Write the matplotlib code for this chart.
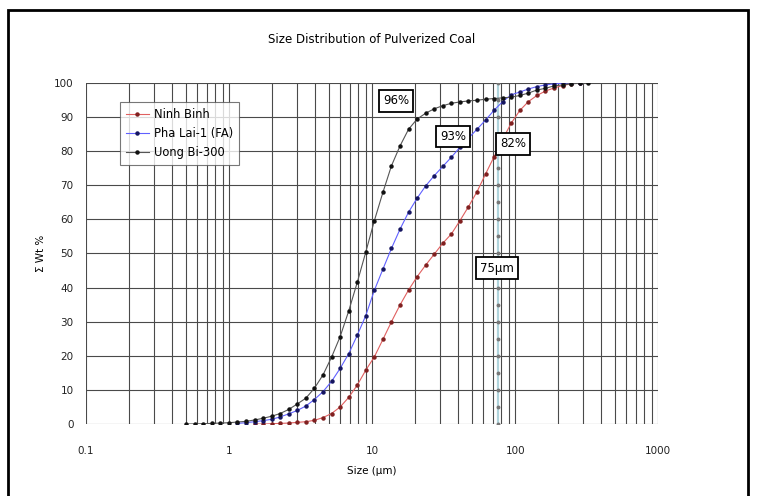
import matplotlib.pyplot as plt
from matplotlib.ticker import LogLocator, NullFormatter
from matplotlib.patches import Rectangle

# particle size classes (um)
sizes = [0.500, 0.574, 0.659, 0.756, 0.868, 0.997, 1.144, 1.313, 1.507, 1.729,
         1.985, 2.278, 2.614, 3.001, 3.444, 3.952, 4.536, 5.206, 5.975, 6.858,
         7.871, 9.033, 10.37, 11.90, 13.66, 15.67, 17.99, 20.65, 23.70, 27.20,
         31.21, 35.82, 41.11, 47.18, 54.15, 62.15, 71.33, 81.86, 93.95, 107.8,
         123.8, 142.1, 163.0, 187.1, 214.7, 246.4, 282.8, 324.6]

uong_bi = [0.0, 0.05, 0.1, 0.2, 0.3, 0.4, 0.6, 0.8, 1.2, 1.7,
           2.3, 3.1, 4.3, 5.9, 7.6, 10.5, 14.4, 19.6, 25.6, 33.1,
           41.5, 50.4, 59.6, 67.9, 75.7, 81.5, 86.4, 89.4, 91.1, 92.4,
           93.3, 94.0, 94.4, 94.7, 94.9, 95.2, 95.4, 95.6, 95.8, 96.3,
           97.0, 97.9, 98.4, 99.1, 99.4, 99.7, 99.9, 100.0]

# Pha Lai starts at 1.144 um
pha_lai = [0.2, 0.4, 0.7, 1.0,
           1.4, 2.1, 3.0, 4.0, 5.3, 7.2, 9.5, 12.5, 16.3, 20.6,
           26.0, 31.8, 39.2, 45.4, 51.5, 57.1, 62.1, 66.2, 69.8, 72.8,
           75.5, 78.2, 81.1, 83.8, 86.4, 89.1, 92.0, 94.5, 96.5, 97.3,
           98.2, 98.9, 99.4, 99.7, 99.9, 100.0, 100.0]

# Ninh Binh starts at 1.507 um
ninh_binh = [0.0, 0.0,
             0.1, 0.2, 0.3, 0.5, 0.7, 1.1, 1.9, 3.1, 5.0, 7.8,
             11.4, 15.8, 19.7, 24.8, 30.0, 34.9, 39.3, 43.2, 46.6, 49.8,
             53.0, 55.7, 59.6, 63.7, 68.1, 73.3, 78.4, 83.5, 88.2, 91.9,
             94.5, 96.3, 97.6, 98.5, 99.2, 99.7, 100.0]

cut_size = 76
cut_y = [0, 5, 10, 15, 20, 25, 30, 35, 40, 45, 50, 55, 60, 65, 70, 75, 80, 85, 90, 95, 100]

labels = ["96%", "93%", "82%", "75µm"]
label_x = [14.7, 36.8, 96.8, 74.8]
label_y = [94.7, 84.2, 82.1, 45.7]

fig = plt.figure(figsize=(7.68, 4.96), dpi=100)
ax = fig.add_axes([0.112, 0.145, 0.745, 0.688])

# cut line at 75 um
ax.plot([cut_size] * len(cut_y), cut_y, color="#b0d4dc", linewidth=1.6,
        marker="o", markersize=1.8, markerfacecolor="#777777",
        markeredgecolor="#777777", zorder=2)

ax.plot(sizes[8:8 + len(ninh_binh)], ninh_binh, color="#e06060", linewidth=0.8,
        marker="o", markersize=2.2, markerfacecolor="#802020",
        markeredgecolor="#802020", label="Ninh Binh", zorder=3)
ax.plot(sizes[6:6 + len(pha_lai)], pha_lai, color="#6060ff", linewidth=0.8,
        marker="o", markersize=2.2, markerfacecolor="#151560",
        markeredgecolor="#151560", label="Pha Lai-1 (FA)", zorder=3)
ax.plot(sizes, uong_bi, color="#555555", linewidth=0.8, marker="o",
        markersize=2.2, markerfacecolor="#111111", markeredgecolor="#111111",
        label="Uong Bi-300", zorder=4)

ax.set_xscale("log")
ax.set_xlim(0.1, 1000)
ax.set_ylim(0, 100)
ax.set_xticks([0.1, 1, 10, 100, 1000])
ax.set_xticklabels(["0.1", "1", "10", "100", "1000"])
ax.xaxis.set_minor_locator(LogLocator(base=10, subs=range(2, 10)))
ax.xaxis.set_minor_formatter(NullFormatter())
ax.set_yticks(range(0, 101, 10))
ax.tick_params(which="both", length=0, labelsize=7.5, colors="#222222")
ax.tick_params(axis="x", pad=16)
ax.tick_params(axis="y", pad=9)

ax.grid(which="major", color="#4a4a4a", linewidth=0.8)
ax.grid(which="minor", axis="x", color="#4a4a4a", linewidth=0.8)
ax.set_axisbelow(True)
for s in ax.spines.values():
    s.set_visible(False)

for t, x, y in zip(labels, label_x, label_y):
    ax.text(x, y, t, ha="center", va="center", fontsize=8.5, zorder=6,
            bbox=dict(boxstyle="square,pad=0.35", facecolor="white",
                      edgecolor="black", linewidth=1.3))

ax.set_title("Size Distribution of Pulverized Coal", fontsize=8.5, pad=29)
ax.set_xlabel("Size (µm)", fontsize=7.5, labelpad=7)
ax.set_ylabel("Σ Wt %", fontsize=7.5, labelpad=6)

leg = ax.legend(loc="upper left", bbox_to_anchor=(0.059, 0.944), fontsize=8.3,
                frameon=True, fancybox=False, edgecolor="#555555",
                borderpad=0.5, labelspacing=0.55, handlelength=2.0,
                handletextpad=0.5, borderaxespad=0)
leg.get_frame().set_linewidth(0.8)

# outer frame
fig.patches.append(Rectangle((8 / 768, -0.05), 740 / 768, 1 - 10 / 496 + 0.05,
                             transform=fig.transFigure, fill=False,
                             edgecolor="black", linewidth=2))

fig.savefig("out.png", dpi=100)
